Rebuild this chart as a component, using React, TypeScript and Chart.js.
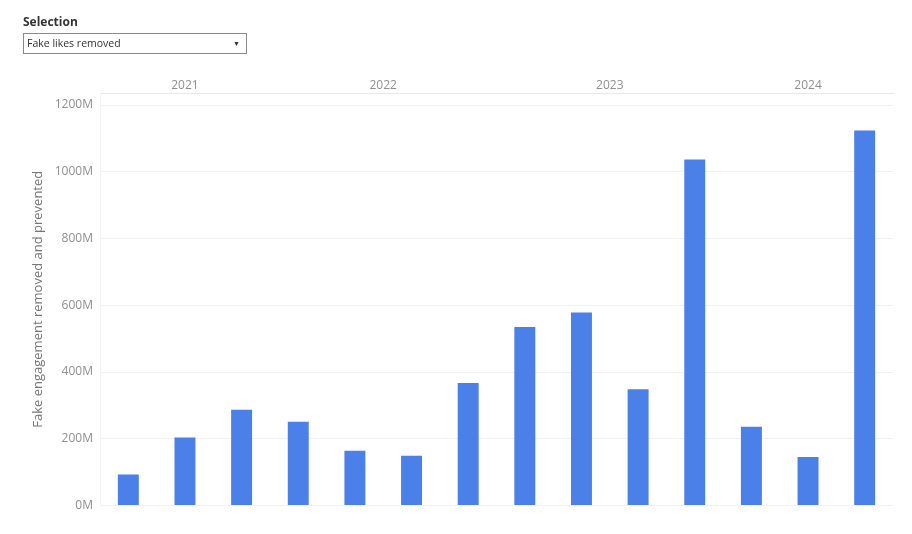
import { useEffect, useRef } from 'react';
import { Chart, registerables } from 'chart.js';

Chart.register(...registerables);

// quarters shown, values in millions
const quarters = [
  'Q2 2021', 'Q3 2021', 'Q4 2021',
  'Q1 2022', 'Q2 2022', 'Q3 2022', 'Q4 2022',
  'Q1 2023', 'Q2 2023', 'Q3 2023', 'Q4 2023',
  'Q1 2024', 'Q2 2024', 'Q3 2024',
];
const fakeLikesRemoved = [93, 204, 287, 251, 164, 149, 367, 535, 578, 348, 1037, 236, 145, 1124];
const years = ['2021', '2022', '2023', '2024'];
const quartersPerYear = [3, 4, 4, 3];
const yTicks = [0, 200, 400, 600, 800, 1000, 1200];

const GREY = '#8f8f8f';
const FONT = "'Open Sans', sans-serif";

function BarChart() {
  const chartRef = useRef<HTMLCanvasElement>(null);
  const chartInstance = useRef<Chart | null>(null);

  useEffect(() => {
    if (!chartRef.current) return;
    if (chartInstance.current) chartInstance.current.destroy();

    // centre of each year's group, in "bar slots"
    const yearCenters: number[] = [];
    let start = 0;
    quartersPerYear.forEach((n) => {
      yearCenters.push(start + n / 2);
      start += n;
    });

    chartInstance.current = new Chart(chartRef.current, {
      type: 'bar',
      data: {
        labels: quarters,
        datasets: [
          {
            label: 'Fake likes removed',
            data: fakeLikesRemoved,
            backgroundColor: '#4b80e8',
            borderWidth: 0,
            categoryPercentage: 1,
            barPercentage: 0.37,
          },
        ],
      },
      options: {
        animation: false,
        responsive: true,
        maintainAspectRatio: false,
        layout: { padding: { left: 0, right: 19, top: 0, bottom: 28.5 } },
        plugins: {
          legend: { display: false },
          tooltip: { enabled: false },
        },
        scales: {
          x: {
            display: false,
            offset: true,
          },
          x2: {
            type: 'linear',
            position: 'top',
            min: 0,
            max: quarters.length,
            offset: false,
            grid: { display: false, drawTicks: false, offset: false },
            border: { color: '#e8e8e8' },
            afterBuildTicks: (scale) => {
              scale.ticks = yearCenters.map((v) => ({ value: v }));
            },
            afterFit: (scale) => {
              scale.height = 93;
            },
            ticks: {
              color: GREY,
              padding: 0,
              maxRotation: 0,
              autoSkip: false,
              font: { family: FONT, size: 12 },
              callback: (value) => years[yearCenters.indexOf(Number(value))] ?? '',
            },
          },
          y: {
            min: 0,
            max: 1236,
            afterBuildTicks: (scale) => {
              scale.ticks = yTicks.map((v) => ({ value: v }));
            },
            afterFit: (scale) => {
              scale.width = 100;
            },
            grid: { color: '#f1f1f1', drawTicks: false },
            border: { color: '#f3f3f3' },
            title: {
              display: true,
              text: 'Fake engagement removed and prevented',
              color: '#777777',
              font: { family: FONT, size: 13 },
              padding: { top: 30, bottom: 0 },
            },
            ticks: {
              color: GREY,
              padding: 7,
              font: { family: FONT, size: 12 },
              callback: (value) => `${value}M`,
            },
          },
        },
      },
    });

    return () => {
      if (chartInstance.current) {
        chartInstance.current.destroy();
        chartInstance.current = null;
      }
    };
  }, []);

  return <canvas ref={chartRef} />;
}

export default function App() {
  return (
    <div
      style={{
        position: 'absolute',
        left: 0,
        top: 0,
        width: 912,
        height: 534,
        background: '#ffffff',
        fontFamily: FONT,
      }}
    >
      <div style={{ position: 'absolute', inset: 0 }}>
        <BarChart />
      </div>
      <div
        style={{
          position: 'absolute',
          left: 23,
          top: 13,
          fontSize: 12,
          fontWeight: 700,
          color: '#333333',
          lineHeight: '17px',
        }}
      >
        Selection
      </div>
      <div
        style={{
          position: 'absolute',
          left: 23,
          top: 33,
          width: 222,
          height: 19,
          border: '1px solid #8a8a8a',
          boxSizing: 'content-box',
          fontSize: 10.5,
          color: '#333333',
          lineHeight: '19px',
        }}
      >
        <span style={{ position: 'absolute', left: 3 }}>Fake likes removed</span>
        <span style={{ position: 'absolute', right: 6, fontSize: 7, color: '#333333' }}>▼</span>
      </div>
    </div>
  );
}
